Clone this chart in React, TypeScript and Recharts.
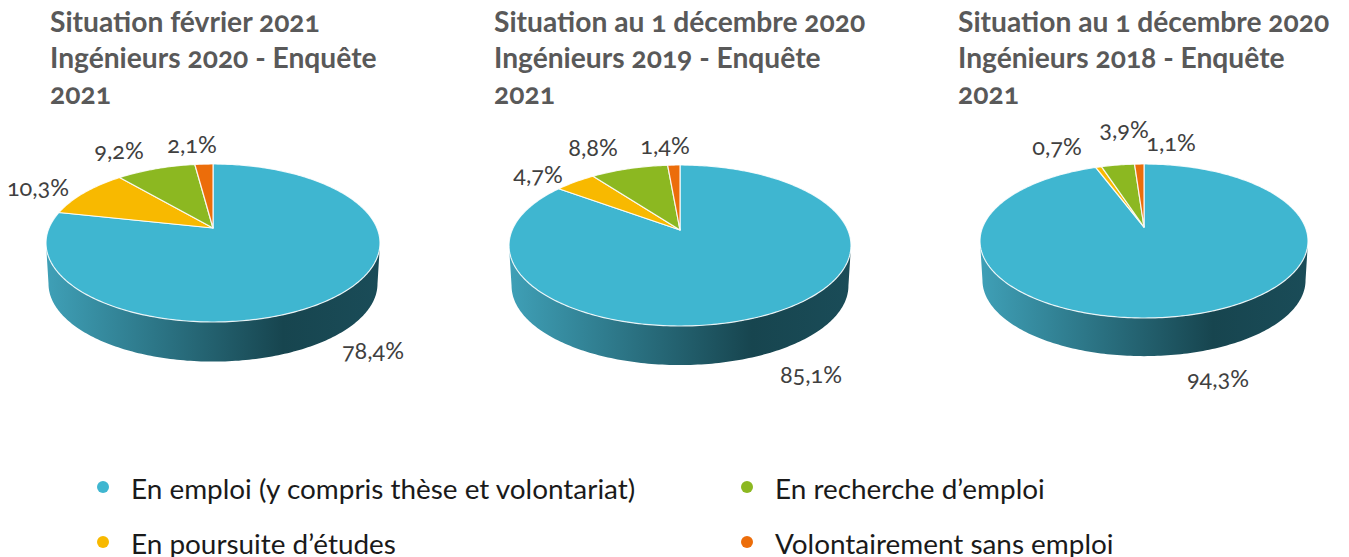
import React from "react";
import { PieChart, Pie, Cell } from "recharts";

const categories = [
  "En emploi (y compris thèse et volontariat)",
  "En poursuite d’études",
  "En recherche d’emploi",
  "Volontairement sans emploi",
];
const colors = ["#3fb6d0", "#f8b900", "#8cb821", "#ec6d0a"];

const values2020 = [78.4, 10.3, 9.2, 2.1];
const values2019 = [85.1, 4.7, 8.8, 1.4];
const values2018 = [94.3, 0.7, 3.9, 1.1];

const titles2020 = ["Situation février 2021", "Ingénieurs 2020 - Enquête", "2021"];
const titles2019 = ["Situation au 1 décembre 2020", "Ingénieurs 2019 - Enquête", "2021"];
const titles2018 = ["Situation au 1 décembre 2020", "Ingénieurs 2018 - Enquête", "2021"];

const FONT = "Lato, 'Open Sans', sans-serif";

// Layout only: perspective of each disc and label offsets from the pie centre
const pies = [
  { values: values2020, titles: titles2020, titleX: 50, cx: 213, cy: 228, halfW: 167, up: 64, down: 94, depth: 41,
    labels: [[160, 122], [-175, -41], [-94, -78], [-21, -84]] },
  { values: values2019, titles: titles2019, titleX: 494, cx: 680, cy: 230, halfW: 171, up: 65, down: 96, depth: 40.5,
    labels: [[131, 144], [-142, -56], [-87, -83], [-15, -85]] },
  { values: values2018, titles: titles2018, titleX: 958, cx: 1144, cy: 227, halfW: 164, up: 63, down: 91, depth: 39.5,
    labels: [[74, 151], [-87, -81], [-20, -98], [27, -85]] },
];

type Geo = { halfW: number; up: number; down: number; depth: number };

function project(cx: number, cy: number, g: Geo, deg: number, scale = 1, dy = 0) {
  const k = (g.down - g.up) / (g.down + g.up);
  const a = g.down * (1 - k);
  const b = g.halfW * Math.sqrt(1 - k * k);
  const r = (deg * Math.PI) / 180;
  const u = Math.cos(r);
  const v = -Math.sin(r);
  const w = 1 - k * v;
  return [cx + (scale * b * u) / w, cy + dy + (scale * a * v) / w];
}

function arc(cx: number, cy: number, g: Geo, from: number, to: number, scale = 1, dy = 0) {
  const n = Math.max(2, Math.ceil(Math.abs(to - from)));
  const out: number[][] = [];
  for (let i = 0; i <= n; i++) out.push(project(cx, cy, g, from + ((to - from) * i) / n, scale, dy));
  return out;
}

const toPath = (pts: number[][]) =>
  pts.map((p, i) => `${i ? "L" : "M"}${p[0].toFixed(2)} ${p[1].toFixed(2)}`).join(" ") + " Z";

function makeShape(g: Geo) {
  return function Shape(props: any) {
    const { cx, cy, startAngle, endAngle, fill } = props;
    const spansFront = startAngle >= -90 && endAngle <= -90;
    let side = null;
    if (spansFront) {
      const k = (g.down - g.up) / (g.down + g.up);
      const d = (Math.asin(k) * 180) / Math.PI;
      const top = arc(cx, cy, g, 180 + d, 360 - d);
      const bottom = arc(cx, cy, g, 360 - d, 180 + d, 0.985, g.depth);
      side = <path d={toPath([...top, ...bottom])} fill="url(#rimGradient)" stroke="none" />;
    }
    const rim = arc(cx, cy, g, startAngle, endAngle);
    return (
      <g>
        {side}
        <path d={toPath([[cx, cy], ...rim])} fill={fill} stroke="#ffffff" strokeOpacity={0.85} strokeWidth={1.2} strokeLinejoin="round" />
      </g>
    );
  };
}

function makeLabel(offsets: number[][]) {
  return function Label(props: any) {
    const { cx, cy, index, value } = props;
    return (
      <text
        x={cx + offsets[index][0]}
        y={cy + offsets[index][1]}
        textAnchor="middle"
        dominantBaseline="central"
        fontFamily={FONT}
        fontSize={23.5}
        fill="#404040"
        style={{ fontVariantNumeric: "oldstyle-nums" }}
      >
        {`${Number(value).toFixed(1).replace(".", ",")}%`}
      </text>
    );
  };
}

const legendLayout = [
  { x: 97, y: 488 },
  { x: 97, y: 543 },
  { x: 741, y: 488 },
  { x: 741, y: 543 },
];

export default function App() {
  return (
    <div style={{ position: "absolute", left: 0, top: 0, width: 1349, height: 557, overflow: "hidden", background: "#fff" }}>
      {pies.map((p) =>
        p.titles.map((line, i) => (
          <div
            key={p.titleX + "-" + i}
            style={{
              position: "absolute",
              left: p.titleX,
              top: 3 + i * 36.2,
              height: 36,
              lineHeight: "36px",
              whiteSpace: "nowrap",
              fontFamily: FONT,
              fontWeight: 700,
              fontSize: 28.2,
              color: "#595959",
              fontVariantNumeric: "oldstyle-nums",
            }}
          >
            {line}
          </div>
        ))
      )}
      <div style={{ position: "absolute", left: 0, top: 0 }}>
        <PieChart width={1349} height={557} margin={{ top: 0, right: 0, bottom: 0, left: 0 }}>
          <defs>
            <linearGradient id="rimGradient" x1="0" y1="0" x2="1" y2="0">
              <stop offset="0%" stopColor="#3fa0b7" />
              <stop offset="71%" stopColor="#17454f" />
              <stop offset="100%" stopColor="#1a4c58" />
            </linearGradient>
          </defs>
          {pies.map((p) => (
            <Pie
              key={p.titleX}
              data={p.values.map((value, i) => ({ name: categories[i], value }))}
              dataKey="value"
              nameKey="name"
              cx={p.cx}
              cy={p.cy}
              outerRadius={p.halfW}
              startAngle={90}
              endAngle={-270}
              isAnimationActive={false}
              labelLine={false}
              label={makeLabel(p.labels)}
              shape={makeShape(p)}
            >
              {p.values.map((_, i) => (
                <Cell key={i} fill={colors[i]} />
              ))}
            </Pie>
          ))}
        </PieChart>
      </div>
      {categories.map((c, i) => (
        <div key={c} style={{ position: "absolute", left: legendLayout[i].x, top: legendLayout[i].y - 20, height: 40, display: "flex", alignItems: "center", whiteSpace: "nowrap" }}>
          <span style={{ width: 12, height: 12, borderRadius: "50%", background: colors[i], marginRight: 22, marginTop: -2 }} />
          <span style={{ fontFamily: FONT, fontSize: 27.9, color: "#1a1a1a" }}>{c}</span>
        </div>
      ))}
    </div>
  );
}
